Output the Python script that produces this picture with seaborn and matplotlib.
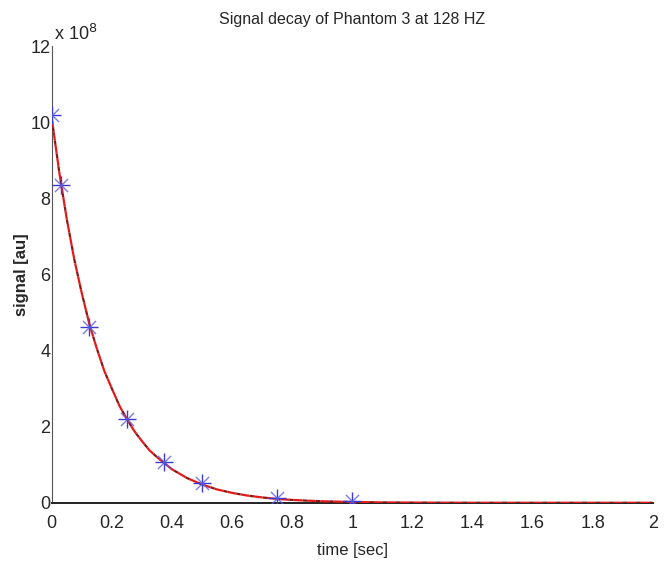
import matplotlib
matplotlib.use("Agg")
import matplotlib.pyplot as plt
import seaborn as sns
import pandas as pd

# measured samples (signal in units of 1e8)
time_pts = [0.0, 0.03, 0.125, 0.25, 0.375, 0.5, 0.75, 1.0]
signal_pts = [10.2, 8.35, 4.62, 2.2, 1.08, 0.52, 0.13, 0.05]

# fitted curve
time_fit = [0.0, 0.025, 0.05, 0.075, 0.1, 0.125, 0.15, 0.175, 0.2, 0.225, 0.25,
            0.275, 0.3, 0.325, 0.35, 0.4, 0.45, 0.5, 0.55,
            0.6, 0.65, 0.7, 0.75, 0.8, 0.85, 0.9, 1.0, 1.1, 1.2, 1.4, 1.6, 2.0]
signal_fit = [10.1, 8.68, 7.45, 6.39, 5.5, 4.7, 4.05, 3.46, 3.0, 2.55, 2.2,
              1.88, 1.62, 1.38, 1.2, 0.88, 0.65, 0.48, 0.35,
              0.26, 0.19, 0.14, 0.10, 0.075, 0.055, 0.04, 0.02, 0.01, 0.005, 0.0, 0.0, 0.0]

x_ticks = [0, 0.2, 0.4, 0.6, 0.8, 1, 1.2, 1.4, 1.6, 1.8, 2]
x_ticklabels = ["0", "0.2", "0.4", "0.6", "0.8", "1", "1.2", "1.4", "1.6", "1.8", "2"]
y_ticks = [0, 2, 4, 6, 8, 10, 12]
y_ticklabels = ["0", "2", "4", "6", "8", "10", "12"]

sns.set_style("white")
plt.rcParams["font.family"] = ["Liberation Sans", "DejaVu Sans"]

fig = plt.figure(figsize=(6.64, 5.63), dpi=100)
ax = fig.add_axes([0.078, 0.107, 0.905, 0.811])

df_fit = pd.DataFrame({"t": time_fit, "s": signal_fit})
df_pts = pd.DataFrame({"t": time_pts, "s": signal_pts})

sns.lineplot(data=df_fit, x="t", y="s", ax=ax, color="#e41a1a", lw=1.6,
             zorder=3)
ln = ax.lines[-1]
ln.set_linestyle((0, (4, 2)))
ln.set_gapcolor("#8a1515")

sns.scatterplot(data=df_pts, x="t", y="s", ax=ax, marker="+", s=170,
                color="#3a3ad8", linewidth=1.0, zorder=4)
sns.scatterplot(data=df_pts, x="t", y="s", ax=ax, marker="x", s=90,
                color="#5a5ae0", linewidth=1.0, zorder=4, alpha=0.8)

ax.set_xlim(0, 2)
ax.set_ylim(0, 12)
ax.set_xticks(x_ticks)
ax.set_xticklabels(x_ticklabels)
ax.set_yticks(y_ticks)
ax.set_yticklabels(y_ticklabels)
ax.tick_params(direction="in", length=5, width=1, color="#333333",
               labelsize=13)
ax.tick_params(axis="x", pad=9)
ax.tick_params(axis="y", pad=1)
for side in ["top", "right"]:
    ax.spines[side].set_visible(False)
ax.spines["left"].set_color("#555555")
ax.spines["bottom"].set_color("#222222")
ax.spines["bottom"].set_linewidth(1.4)

ax.set_xlabel("time [sec]", fontsize=12, labelpad=8)
ax.set_ylabel("signal [au]", fontsize=12, fontweight="bold")
ax.yaxis.set_label_coords(-0.038, 0.5)
ax.set_title("Signal decay of Phantom 3 at 128 HZ", fontsize=11.5, pad=16)
ax.text(0.003, 1.005, r"x 10$^{8}$", transform=ax.transAxes, fontsize=13,
        ha="left", va="bottom")

fig.savefig("out.png", dpi=100)
